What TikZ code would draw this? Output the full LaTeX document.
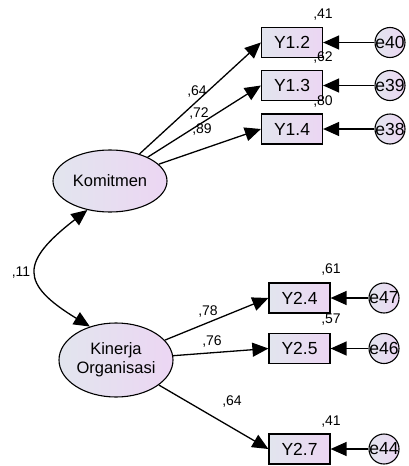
\documentclass[tikz,border=0pt]{standalone}
\usepackage{fontspec}
\setmainfont{Liberation Sans}
\usetikzlibrary{arrows.meta,shapes.geometric}
\definecolor{gl}{RGB}{226,229,238}
\definecolor{gr}{RGB}{236,214,243}
\tikzset{
  obs/.style={draw, line width=1.2pt, left color=gl, right color=gr, minimum width=61pt, minimum height=30pt, inner sep=0pt, font=\fontsize{17.5}{19}\selectfont},
  lat/.style={draw, line width=1.1pt, ellipse, left color=gl, right color=gr, inner sep=0pt, align=center, font=\fontsize{16.5}{19}\selectfont},
  err/.style={draw, line width=1.1pt, circle, left color=gl, right color=gr, minimum size=30pt, inner sep=0pt, font=\fontsize{17.5}{19}\selectfont},
  tip/.style={},
  arr/.style={line width=1.3pt, -{Triangle[length=16pt,width=14pt]}},
  lbl/.style={font=\fontsize{14}{16}\selectfont, inner sep=0pt}
}
\begin{document}
\begin{tikzpicture}[x=1pt,y=-1pt]
\useasboundingbox (0,0) rectangle (409,466);
% latent
\node[lat, minimum width=114pt, minimum height=62pt] (K) at (110,181) {Komitmen};
\node[lat, minimum width=114pt, minimum height=74pt] (KO) at (116,360) {Kinerja\\Organisasi};
% observed
\node[obs] (Y12) at (292,42.5) {Y1.2};
\node[obs] (Y13) at (292,85.5) {Y1.3};
\node[obs] (Y14) at (292,129) {Y1.4};
\node[obs] (Y24) at (299.5,298) {Y2.4};
\node[obs] (Y25) at (299.5,348.5) {Y2.5};
\node[obs] (Y27) at (299.5,449) {Y2.7};
% errors
\node[err] (e40) at (390,42.5) {\makebox[0pt]{e40}};
\node[err] (e39) at (390,85.5) {\makebox[0pt]{e39}};
\node[err] (e38) at (390,129) {\makebox[0pt]{e38}};
\node[err] (e47) at (384,298) {\makebox[0pt]{e47}};
\node[err] (e46) at (384,348.5) {\makebox[0pt]{e46}};
\node[err] (e44) at (384,449) {\makebox[0pt]{e44}};
% arrows
\draw[arr] (K) -- (Y12.west);
\draw[arr] (K) -- (Y13.west);
\draw[arr] (K) -- (Y14.west);
\draw[arr] (KO) -- (Y24.west);
\draw[arr] (KO) -- (Y25.west);
\draw[arr] (KO) -- (Y27.west);
\draw[arr] (e40) -- (Y12);
\draw[arr] (e39) -- (Y13);
\draw[arr] (e38) -- (Y14);
\draw[arr] (e47) -- (Y24);
\draw[arr] (e46) -- (Y25);
\draw[arr] (e44) -- (Y27);
\draw[line width=1.3pt, {Triangle[length=16pt,width=14pt]}-{Triangle[length=16pt,width=14pt]}] (K.232) .. controls (20,262) and (20,284) .. (KO.128);
% labels
\node[lbl] (l41a) at (323,15) {,41};
\node[lbl] (l62) at (323,58) {,62};
\node[lbl] (l80) at (323,102) {,80};
\node[lbl] (l64a) at (197,92) {,64};
\node[lbl] (l72) at (199,114) {,72};
\node[lbl] (l89) at (202,130) {,89};
\node[lbl] (l11) at (21,273) {,11};
\node[lbl] (l61) at (331,270) {,61};
\node[lbl] (l57) at (331,320) {,57};
\node[lbl] (l41b) at (331,422) {,41};
\node[lbl] (l78) at (208,312) {,78};
\node[lbl] (l76) at (212,342) {,76};
\node[lbl] (l64b) at (232,402) {,64};
\end{tikzpicture}
\end{document}
